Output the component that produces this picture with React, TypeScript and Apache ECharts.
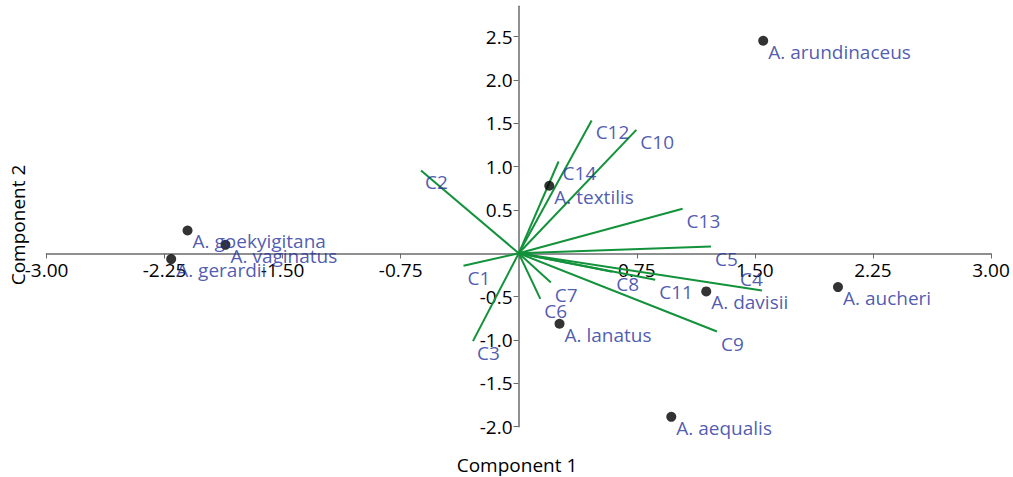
import React, { useEffect, useRef } from "react";
import * as echarts from "echarts";

const speciesNames = [
  "A. arundinaceus",
  "A. textilis",
  "A. goekyigitana",
  "A. vaginatus",
  "A. gerardii",
  "A. davisii",
  "A. aucheri",
  "A. lanatus",
  "A. aequalis",
];
const speciesX = [1.553, 0.194, -2.104, -1.863, -2.208, 1.191, 2.028, 0.259, 0.969];
const speciesY = [2.451, 0.779, 0.263, 0.098, -0.067, -0.44, -0.39, -0.813, -1.886];

const vectorNames = ["C1", "C2", "C3", "C4", "C5", "C6", "C7", "C8", "C9", "C10", "C11", "C12", "C13", "C14"];
const vectorX = [-0.351, -0.621, -0.291, 1.545, 1.221, 0.137, 0.204, 0.594, 1.259, 0.747, 0.867, 0.463, 1.041, 0.253];
const vectorY = [-0.144, 0.955, -1.013, -0.429, 0.078, -0.525, -0.337, -0.213, -0.902, 1.424, -0.306, 1.532, 0.513, 1.059];

const xTicks = [-3, -2.25, -1.5, -0.75, 0, 0.75, 1.5, 2.25, 3];
const yTicks = [-2, -1.5, -1, -0.5, 0, 0.5, 1, 1.5, 2, 2.5];

const FONT = "Open Sans";
const BLUE = "#24309c";
const GREEN = "#12923a";
const FS = 19;

export default function App() {
  const ref = useRef<HTMLDivElement>(null);
  useEffect(() => {
    if (!ref.current) return;
    const chart = echarts.init(ref.current, null, { renderer: "svg" });
    const vectorSeries = vectorNames.map((n, i) => ({
      type: "line",
      name: n,
      data: [
        [0, 0],
        [vectorX[i], vectorY[i]],
      ],
      symbol: "none",
      lineStyle: { color: GREEN, width: 2 },
      z: 2,
      silent: true,
    }));
    const labelPos: Record<string, number[]> = { C4: [-22, -11] };
    chart.setOption({
      animation: false,
      grid: { left: 46.5, right: 22, top: 6.2, bottom: 50.3, containLabel: false },
      xAxis: {
        type: "value",
        min: -3,
        max: 3,
        interval: 0.75,
        position: "bottom",
        offset: -173.2,
        splitLine: { show: false },
        axisLine: { onZero: false, lineStyle: { color: "#6b6b6b", width: 1.5 } },
        axisTick: { show: true, length: 5, lineStyle: { color: "#6b6b6b" }, customValues: xTicks },
        axisLabel: {
          customValues: xTicks.filter((v) => v !== 0),
          formatter: (v: number) => v.toFixed(2),
          color: "#000",
          fontFamily: FONT,
          fontSize: FS,
          margin: 7,
        },
      },
      yAxis: {
        type: "value",
        min: -2,
        max: 2.85,
        interval: 0.5,
        position: "left",
        offset: -472,
        splitLine: { show: false },
        axisLine: { onZero: false, lineStyle: { color: "#6b6b6b", width: 1.5 } },
        axisTick: { show: true, length: 5, lineStyle: { color: "#6b6b6b" }, customValues: yTicks },
        axisLabel: {
          customValues: yTicks.filter((v) => v !== 0),
          formatter: (v: number) => v.toFixed(1),
          color: "#000",
          fontFamily: FONT,
          fontSize: FS,
          margin: 6,
        },
      },
      series: [
        ...vectorSeries,
        {
          type: "scatter",
          data: vectorNames.map((n, i) => ({
            name: n,
            value: [vectorX[i], vectorY[i]],
            label: { position: labelPos[n] || [4, 12] },
          })),
          symbolSize: 0,
          label: {
            show: true,
            formatter: (p: any) => p.name,
            color: BLUE,
            fontFamily: FONT,
            fontSize: FS,
            align: "left",
            verticalAlign: "middle",
          },
          z: 3,
          silent: true,
        },
        {
          type: "scatter",
          data: speciesNames.map((n, i) => ({ name: n, value: [speciesX[i], speciesY[i]] })),
          symbolSize: 10,
          itemStyle: { color: "#000" },
          label: {
            show: true,
            formatter: (p: any) => p.name,
            position: [10, 16],
            color: BLUE,
            fontFamily: FONT,
            fontSize: FS,
            align: "left",
            verticalAlign: "middle",
          },
          z: 4,
          silent: true,
        },
      ],
      graphic: [
        {
          type: "text",
          x: 517,
          y: 465,
          style: {
            text: "Component 1",
            font: `${FS}px "${FONT}"`,
            fill: "#000",
            align: "center",
            verticalAlign: "middle",
          },
        },
        {
          type: "text",
          x: 18,
          y: 225,
          rotation: Math.PI / 2,
          style: {
            text: "Component 2",
            font: `${FS}px "${FONT}"`,
            fill: "#000",
            align: "center",
            verticalAlign: "middle",
          },
        },
      ],
    });
    return () => chart.dispose();
  }, []);
  return (
    <div
      ref={ref}
      style={{ position: "absolute", left: 0, top: 0, width: 1013, height: 477 }}
    />
  );
}
